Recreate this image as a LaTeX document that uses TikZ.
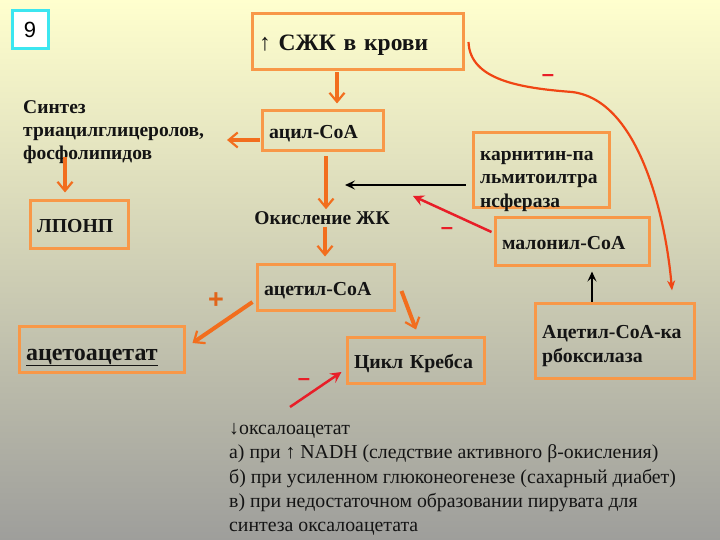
\documentclass[tikz,border=0pt]{standalone}
\usepackage{fontspec}
\setmainfont{Liberation Serif}
\newfontfamily\sansf{Liberation Sans}
\usetikzlibrary{arrows.meta,calc}
\definecolor{boxor}{RGB}{248,152,72}
\definecolor{arror}{RGB}{242,110,30}
\definecolor{plusc}{RGB}{225,100,25}
\definecolor{curvred}{RGB}{240,70,20}
\definecolor{redar}{RGB}{232,30,40}
\definecolor{bgtop}{RGB}{255,255,206}
\definecolor{bgbot}{RGB}{158,158,155}
\definecolor{txt}{RGB}{20,20,20}
\definecolor{cyanb}{RGB}{60,230,240}
\begin{document}
\begin{tikzpicture}[x=1pt,y=-1pt,
  box/.style={draw=boxor,line width=3pt,inner xsep=7pt,inner ysep=0pt,align=left,
    text height=18pt,text depth=2pt,
    font=\bfseries\fontsize{19.8}{24}\selectfont,text=txt},
  frame/.style={draw=boxor,line width=3pt,inner sep=0pt},
  oarrow/.style={draw=arror,line width=4pt,-{Straight Barb[length=9pt,width=15pt,line width=2.2pt]}},
  redarrow/.style={draw=redar,line width=2.5pt,-{Stealth[length=11pt,width=11pt,inset=4pt]}},
  blackarrow/.style={draw=black,line width=2pt,-{Stealth[length=10pt,width=9pt,inset=4pt]}},
  minus/.style={text=redar,font=\sansf\bfseries\fontsize{22}{22}\selectfont,inner sep=0pt},
  plain/.style={text=txt,inner sep=0pt,align=left}
]
\shade[top color=bgtop,bottom color=bgbot] (0,0) rectangle (720,540);
\useasboundingbox (0,0) rectangle (720,540);

% number box
\node[draw=cyanb,line width=3pt,fill=white,minimum width=36,minimum height=38,inner sep=0pt,
  font=\sansf\fontsize{22}{22}\selectfont] (num) at (30,30) {9};

% boxes
\node[box,minimum width=211,minimum height=56,text width=197,text height=20pt,text depth=3pt,
  font=\bfseries\fontsize{23.5}{26}\selectfont] (sjk) at (357.5,42) {{\mdseries↑} СЖК в крови};
\node[box,minimum width=121,minimum height=40,text width=107] (acyl) at (322.5,131) {ацил-CoA};
\node[box,minimum width=98,minimum height=47,text width=84] (lpo) at (79,224.5) {ЛПОНП};
\node[frame,minimum width=136,minimum height=75] (karn) at (541,170.5) {};
\node[plain,anchor=north west,font=\bfseries\fontsize{19.5}{23.5}\selectfont] (karnT) at (480,151)
  {карнитин-па\\льмитоилтра\\нсфераза};
\node[box,minimum width=154,minimum height=47,text width=140] (malon) at (572,241.5) {малонил-CoA};
\node[box,minimum width=137,minimum height=46,text width=123] (acet) at (325.5,287) {ацетил-CoA};
\node[box,minimum width=165,minimum height=46,text width=151,text height=26pt,text depth=4pt,
  font=\bfseries\fontsize{24}{26}\selectfont] (aa) at (101.5,349) {\underline{ацетоацетат}};
\node[box,minimum width=137,minimum height=46,text width=123] (krebs) at (415.5,360) {Цикл Кребса};
\node[frame,minimum width=159,minimum height=75] (carb) at (614.5,340.5) {};
\node[plain,anchor=north west,font=\bfseries\fontsize{19.8}{24.5}\selectfont] (carbT) at (542,325)
  {Ацетил-CoA-ка\\рбоксилаза};

% free texts
\node[plain,anchor=north west,font=\bfseries\fontsize{19.5}{23}\selectfont] (synth) at (23,100)
  {Синтез\\триацилглицеролов,\\фосфолипидов};
\node[plain,font=\bfseries\fontsize{19.5}{22}\selectfont] (okis) at (322,218) {Окисление ЖК};
\node[plain,anchor=north west,font=\fontsize{19.8}{24.4}\selectfont] (note) at (229,423)
  {↓оксалоацетат\\
   а) при ↑ NADH (следствие активного β-окисления)\\
   б) при усиленном глюконеогенезе (сахарный диабет)\\
   в) при недостаточном образовании пирувата для\\
   синтеза оксалоацетата};

% signs
\node[text=plusc,font=\sansf\bfseries\fontsize{27}{27}\selectfont,inner sep=0pt] (plus) at (216,301) {+};
\node[minus] (m1) at (548,78) {–};
\node[minus] (m2) at (447,231) {–};
\node[minus] (m3) at (304,382) {–};

% free ends
\coordinate (synR) at (227,140);
\coordinate (redS) at (290,407);
\coordinate (blackE) at (345,185);
\coordinate (redE) at (413,196);

% orange arrows
\draw[oarrow] ($(sjk.south)+(-20.5,1)$) -- ($(acyl.north)+(14.5,-6)$);
\draw[oarrow] ($(acyl.west)+(-1,9)$) -- (synR);
\draw[oarrow] ($(synth.south west)+(42,-6)$) -- ($(lpo.north)+(-14,-7)$);
\draw[oarrow] ($(acyl.south)+(3.5,4)$) -- ($(okis.north)+(4,-2)$);
\draw[oarrow] ($(okis.south)+(3,2)$) -- ($(acet.north)+(-0.5,-6)$);
\draw[oarrow] ($(acet.east)+(6,4)$) -- ($(krebs.north)+(0.5,-6)$);
\draw[oarrow] ($(acet.west)+(-3,15)$) -- ($(aa.east)+(7,-6)$);

% black arrows
\draw[blackarrow] ($(karn.west)+(-6,14.5)$) -- (blackE);
\draw[blackarrow] ($(carb.north)+(-22.5,0)$) -- ($(malon.south)+(20,5)$);

% red arrows
\draw[redarrow] ($(malon.west)+(-2,-9.5)$) -- (redE);
\draw[redarrow] (redS) -- ($(krebs.west)+(-4,12)$);

% curve
\draw[curvred,line width=2.2pt,-{Stealth[length=10pt,width=8pt]}]
  ($(sjk.east)+(4,0)$) .. controls (470,80) and (520,88) .. (572,92)
  .. controls (640,100) and (666,220) .. ($(carb.north)+(57.5,-11)$);
\end{tikzpicture}
\end{document}
